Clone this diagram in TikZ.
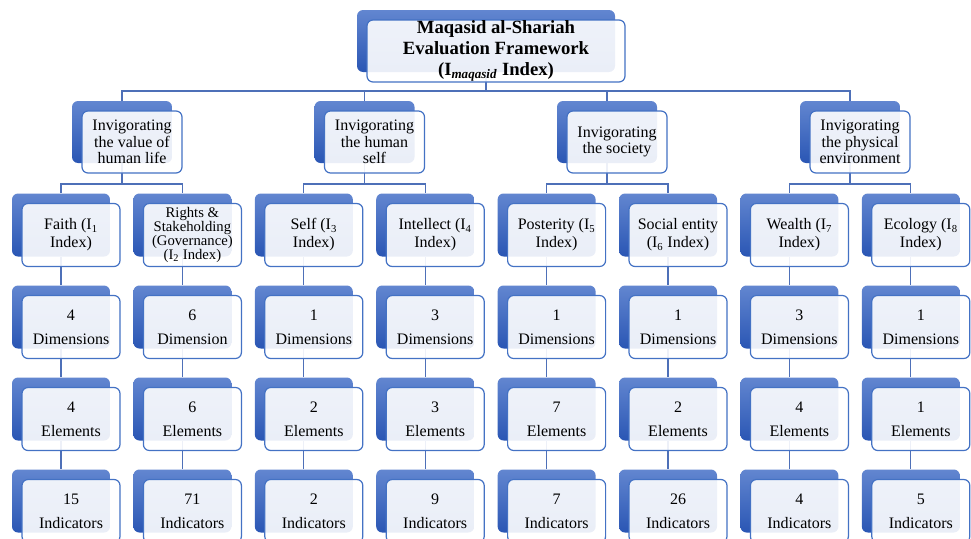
\documentclass[tikz,border=0pt]{standalone}
\usepackage{fontspec}
\setmainfont{Liberation Serif}
\usetikzlibrary{backgrounds, calc}
\definecolor{tabtop}{RGB}{98,134,208}
\definecolor{tabbot}{RGB}{42,86,180}
\definecolor{cardline}{RGB}{68,114,196}
\definecolor{wire}{RGB}{78,112,184}
\tikzstyle{tab} = [rectangle, rounded corners=4.5pt, top color=tabtop, bottom color=tabbot, minimum width=73.5pt, minimum height=47.25pt, inner sep=0pt]
\tikzstyle{card} = [rectangle, draw=cardline, line width=0.9pt, rounded corners=4.5pt, fill=white, fill opacity=0.9, text opacity=1, align=center, minimum width=73.5pt, minimum height=47.25pt, inner sep=0pt, font=\fontsize{12}{13.5}\selectfont]
\tikzstyle{count} = [card, font=\fontsize{12}{18}\selectfont]
\tikzstyle{line} = [draw=wire, line width=0.8pt]

\begin{document}
\begin{tikzpicture}[x=0.75pt,y=-0.75pt]
\path[use as bounding box, clip] (0,0) rectangle (971,539);

% top of the tree
\node[tab, minimum width=193.5pt, minimum height=46.5pt] (t-top) at (486,41) {};
\node[
  card,
  minimum width=193.5pt,
  minimum height=46.5pt,
  font=\fontsize{14}{15.5}\selectfont\bfseries
  ] (top) at ([shift={(10,10)}]t-top.center) {Maqasid al-Shariah\\Evaluation Framework\\(I\textsubscript{\textit{maqasid}} Index)};

% four groups
\foreach \g/\x/\txt in {1/122/{Invigorating\\the value of\\human life},
                        2/364.5/{Invigorating\\the human\\self},
                        3/607/{Invigorating\\the society},
                        4/850/{Invigorating\\the physical\\environment}}
{
  \node[tab, minimum width=75pt, minimum height=46.5pt] (t-grp\g) at (\x,132) {};
  \node[card, minimum width=75pt, minimum height=46.5pt, font=\fontsize{12}{12.4}\selectfont]
    (grp\g) at ([shift={(10,10)}]t-grp\g.center) {\txt};
}

% indices, dimensions, elements, indicators
\foreach \i/\d/\dw/\e/\n in {0/4/Dimensions/4/15, 1/6/Dimension/6/71, 2/1/Dimensions/2/2,
                             3/3/Dimensions/3/9, 4/1/Dimensions/7/7, 5/1/Dimensions/2/26,
                             6/3/Dimensions/4/4, 7/1/Dimensions/1/5}
{
  \node[tab] (t-idx\i) at (61+121.4*\i,225) {};
  \node[tab] (t-dim\i) at (61+121.4*\i,317) {};
  \node[tab] (t-ele\i) at (61+121.4*\i,409) {};
  \node[tab] (t-ind\i) at (61+121.4*\i,501) {};
  \node[count] (dim\i) at ([shift={(10,10)}]t-dim\i.center) {\d\\\dw};
  \node[count] (ele\i) at ([shift={(10,10)}]t-ele\i.center) {\e\\Elements};
  \node[count] (ind\i) at ([shift={(10,10)}]t-ind\i.center) {\n\\Indicators};
}

\node[card] (idx0) at ([shift={(10,10)}]t-idx0.center) {Faith (I\textsubscript{1}\\Index)};
\node[card, font=\fontsize{11}{10.6}\selectfont] (idx1) at ([shift={(10,10)}]t-idx1.center) {Rights \&\\Stakeholding\\(Governance)\\(I\textsubscript{2} Index)};
\node[card] (idx2) at ([shift={(10,10)}]t-idx2.center) {Self (I\textsubscript{3}\\Index)};
\node[card] (idx3) at ([shift={(10,10)}]t-idx3.center) {Intellect (I\textsubscript{4}\\Index)};
\node[card] (idx4) at ([shift={(10,10)}]t-idx4.center) {Posterity (I\textsubscript{5}\\Index)};
\node[card] (idx5) at ([shift={(10,10)}]t-idx5.center) {Social entity\\(I\textsubscript{6} Index)};
\node[card] (idx6) at ([shift={(10,10)}]t-idx6.center) {Wealth (I\textsubscript{7}\\Index)};
\node[card] (idx7) at ([shift={(10,10)}]t-idx7.center) {Ecology (I\textsubscript{8}\\Index)};

\begin{scope}[on background layer]
\coordinate (bus) at (486,91);
\coordinate (sub) at (0,184);
\draw[line] (t-top) -- (t-top |- bus);
\draw[line] (t-grp1) |- (bus) -| (t-grp4);
\draw[line] (t-grp2) -- (t-grp2 |- bus);
\draw[line] (t-grp3) -- (t-grp3 |- bus);
\foreach \g/\a/\b in {1/0/1, 2/2/3, 3/4/5, 4/6/7}
{
  \draw[line] (t-grp\g) -- (t-grp\g |- sub);
  \draw[line] (t-idx\a) |- (t-grp\g |- sub) -| (t-idx\b);
}
\foreach \i in {0,...,7}
  \draw[line] (t-idx\i) -- (t-dim\i) (t-dim\i) -- (t-ele\i) (t-ele\i) -- (t-ind\i);
\end{scope}
\end{tikzpicture}
\end{document}
